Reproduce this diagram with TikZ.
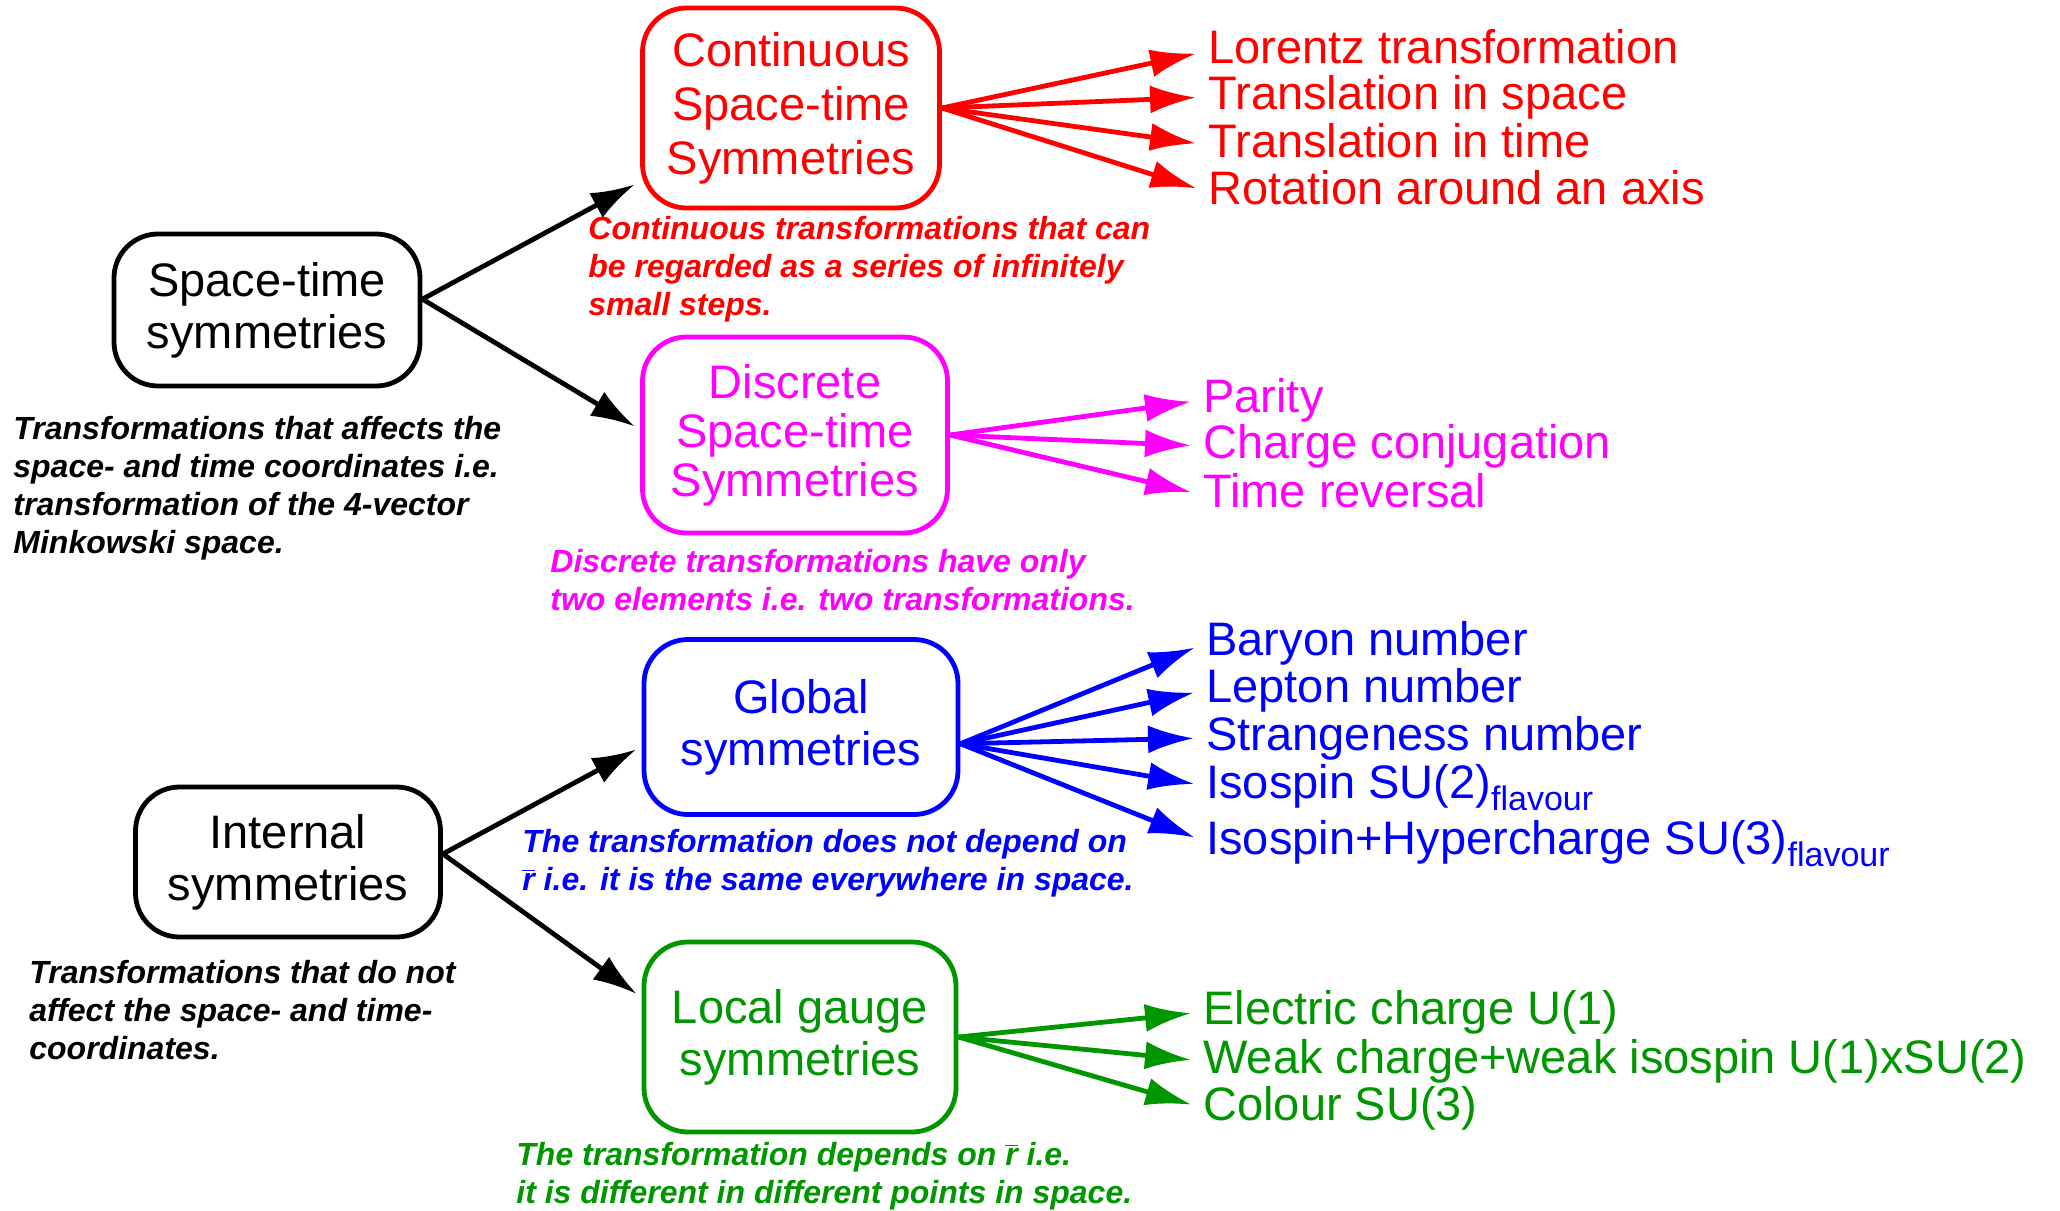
\documentclass[tikz,border=0pt]{standalone}
\usepackage{fontspec}
\setmainfont{Liberation Sans}
\usetikzlibrary{
  arrows.meta
}
\definecolor{gaugegreen}{RGB}{0,150,0}
\definecolor{discmagenta}{RGB}{255,0,255}
\definecolor{globblue}{RGB}{0,0,255}
\definecolor{contred}{RGB}{255,0,0}
\newcommand\rbar{$\overline{\mbox{r}}$}
\newcommand\flav{\raisebox{-6pt}{\fontsize{17}{17}\selectfont flavour}}

\begin{document}
\begin{tikzpicture}[x=0.5pt, y=-0.5pt,
  sym/.style = {shape=rectangle, rounded corners=22pt, draw,
    line width=2.4pt, align=center, inner sep=0pt,
    font=\fontsize{23.5}{26}\selectfont},
  entry/.style = {anchor=base west, inner sep=0pt,
    text height=17pt, text depth=5pt,
    font=\fontsize{23.5}{26}\selectfont},
  note/.style = {anchor=north west, inner sep=0pt, align=left,
    font=\fontsize{16}{19}\selectfont\bfseries\itshape},
  branch/.style = {line width=2.4pt, -{Latex[length=22pt,width=14pt]},
    shorten >=3pt},
  leaf/.style = {line width=2.4pt, -{Latex[length=23pt,width=14pt]},
    shorten >=6pt}]
  \useasboundingbox (0,0) rectangle (2060,1210);

  \node[sym, minimum width=153pt, minimum height=76pt] (stime) at (267,310)
    {Space-time\\symmetries};
  \node[sym, minimum width=152.5pt, minimum height=75pt] (intl) at (288,862)
    {Internal\\symmetries};

  \node[sym, contred, minimum width=148.5pt, minimum height=100pt,
    font=\fontsize{23.5}{27}\selectfont] (cont) at (791,108)
    {Continuous\\Space-time\\Symmetries};
  \node[sym, discmagenta, minimum width=152.5pt, minimum height=98pt,
    font=\fontsize{23.5}{24.5}\selectfont] (disc) at (795,435)
    {Discrete\\Space-time\\Symmetries};
  \node[sym, globblue, minimum width=157pt, minimum height=87.5pt] (glob) at (801,727)
    {Global\\symmetries};
  \node[sym, gaugegreen, minimum width=156pt, minimum height=95pt] (loc) at (800,1037)
    {Local gauge\\symmetries};

  \node[note] (stimenote) at (13,416)
    {Transformations that affects the\\space- and time coordinates i.e.\\transformation of the 4-vector\\Minkowski space.};
  \node[note] (intlnote) at (29,960)
    {Transformations that do not\\affect the space- and time-\\coordinates.};
  \node[note, contred] (contnote) at (588,216)
    {Continuous transformations that can\\be regarded as a series of infinitely\\small steps.};
  \node[note, discmagenta] (discnote) at (550,549)
    {Discrete transformations have only\\two elements i.e. two transformations.};
  \node[note, globblue] (globnote) at (522,829)
    {The transformation does not depend on\\\rbar{} i.e. it is the same everywhere in space.};
  \node[note, gaugegreen] (locnote) at (516,1142)
    {The transformation depends on \rbar{} i.e.\\it is different in different points in space.};

  \node[entry, contred] (lor) at (1208,63) {Lorentz transformation};
  \node[entry, contred] (trs) at (1208,109) {Translation in space};
  \node[entry, contred] (trt) at (1208,157) {Translation in time};
  \node[entry, contred] (rot) at (1208,204) {Rotation around an axis};

  \node[entry, discmagenta] (par) at (1203,412) {Parity};
  \node[entry, discmagenta] (cc) at (1203,458) {Charge conjugation};
  \node[entry, discmagenta] (tr) at (1203,507) {Time reversal};

  \node[entry, globblue] (bar) at (1206,655) {Baryon number};
  \node[entry, globblue] (lep) at (1206,702) {Lepton number};
  \node[entry, globblue] (str) at (1206,750) {Strangeness number};
  \node[entry, globblue] (iso) at (1206,798) {Isospin SU(2)\flav};
  \node[entry, globblue] (isohyp) at (1206,854) {Isospin+Hypercharge SU(3)\flav};

  \node[entry, gaugegreen] (ech) at (1203,1024) {Electric charge U(1)};
  \node[entry, gaugegreen] (wk) at (1203,1073) {Weak charge+weak isospin U(1)xSU(2)};
  \node[entry, gaugegreen] (col) at (1203,1120) {Colour SU(3)};

  \draw[branch] (stime.4) -- (cont.206);
  \draw[branch] (stime.4) -- (disc.178);
  \draw[branch] (intl.3) -- (glob.187);
  \draw[branch] (intl.3) -- (loc.166);

  \foreach \t in {lor,trs,trt,rot}
    \draw[leaf, contred] (cont.east) -- (\t.west);
  \foreach \t in {par,cc,tr}
    \draw[leaf, discmagenta] (disc.east) -- (\t.west);
  \foreach \t in {bar,lep,str,iso,isohyp}
    \draw[leaf, globblue] (glob.-6) -- (\t.west);
  \foreach \t in {ech,wk,col}
    \draw[leaf, gaugegreen] (loc.east) -- (\t.west);
\end{tikzpicture}
\end{document}
